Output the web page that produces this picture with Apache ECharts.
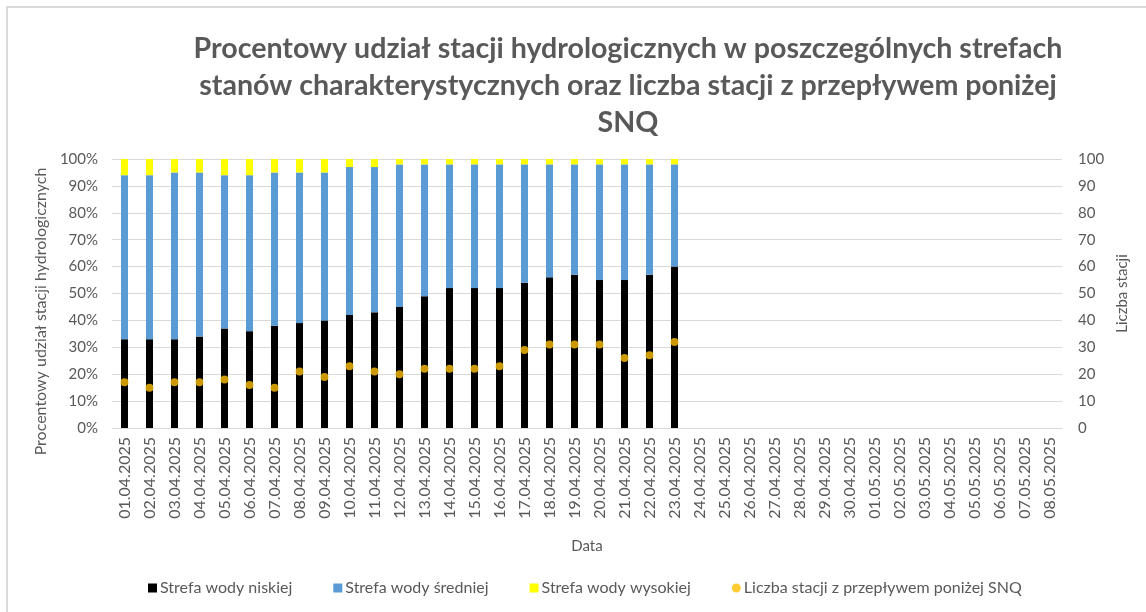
<!DOCTYPE html>
<html lang="pl">
<head>
    <meta charset="UTF-8">
    <title>Strefy stanów charakterystycznych</title>
    <style>
        body { margin: 0; background: #fff; }
        #main { width: 1146px; height: 612px; }
    </style>
</head>
<body>
<div id="main"></div>
<script src="https://cdn.jsdelivr.net/npm/echarts@6/dist/echarts.min.js"></script>
<script>
    // daty (oś X)
    var dates = [
        '01.04.2025','02.04.2025','03.04.2025','04.04.2025','05.04.2025','06.04.2025','07.04.2025',
        '08.04.2025','09.04.2025','10.04.2025','11.04.2025','12.04.2025','13.04.2025','14.04.2025',
        '15.04.2025','16.04.2025','17.04.2025','18.04.2025','19.04.2025','20.04.2025','21.04.2025',
        '22.04.2025','23.04.2025','24.04.2025','25.04.2025','26.04.2025','27.04.2025','28.04.2025',
        '29.04.2025','30.04.2025','01.05.2025','02.05.2025','03.05.2025','04.05.2025','05.05.2025',
        '06.05.2025','07.05.2025','08.05.2025'
    ];
    // udział procentowy w strefach
    var niska = [33,33,33,34,37,36,38,39,40,42,43,45,49,52,52,52,54,56,57,55,55,57,60];
    var srednia = [61,61,62,61,57,58,57,56,55,55,54,53,49,46,46,46,44,42,41,43,43,41,38];
    var wysoka = [6,6,5,5,6,6,5,5,5,3,3,2,2,2,2,2,2,2,2,2,2,2,2];
    // liczba stacji z przepływem poniżej SNQ
    var ponizejSNQ = [17,15,17,17,18,16,15,21,19,23,21,20,22,22,22,23,29,31,31,31,26,27,32];

    var leftTicks = ['0%','10%','20%','30%','40%','50%','60%','70%','80%','90%','100%'];

    var FONT = 'Lato';
    var GREY = '#595959';

    var myChart = echarts.init(document.getElementById('main'));

    var option = {
        backgroundColor: '#fff',
        animation: false,
        textStyle: { fontFamily: FONT },
        graphic: [
            {
                type: 'rect',
                shape: { x: 7, y: 7, width: 1300, height: 800 },
                style: { fill: 'none', stroke: '#d9d9d9', lineWidth: 2 },
                silent: true
            },
            {
                type: 'text',
                x: 628,
                y: 30,
                style: {
                    text: 'Procentowy udział stacji hydrologicznych w poszczególnych strefach\n' +
                          'stanów charakterystycznych oraz liczba stacji z przepływem poniżej\nSNQ',
                    fontFamily: FONT,
                    fontSize: 28.6,
                    fontWeight: 'bold',
                    fill: GREY,
                    align: 'center',
                    lineHeight: 37
                }
            }
        ],
        legend: {
            left: 143,
            top: 575,
            itemGap: 41,
            itemWidth: 9,
            itemHeight: 9,
            textStyle: { color: GREY, fontSize: 16, fontFamily: FONT, padding: [0, 0, 0, -2] },
            data: [
                { name: 'Strefa wody niskiej', icon: 'rect' },
                { name: 'Strefa wody średniej', icon: 'rect' },
                { name: 'Strefa wody wysokiej', icon: 'rect' },
                { name: 'Liczba stacji z przepływem poniżej SNQ', icon: 'circle' }
            ]
        },
        grid: { left: 112, right: 84, top: 159, bottom: 184 },
        xAxis: {
            type: 'category',
            data: dates,
            name: 'Data',
            nameLocation: 'middle',
            nameGap: 111,
            nameTextStyle: { color: GREY, fontSize: 15, fontFamily: FONT },
            axisLine: { lineStyle: { color: '#d9d9d9' } },
            axisTick: { lineStyle: { color: '#d9d9d9' }, length: 5 },
            axisLabel: { rotate: 90, interval: 0, color: GREY, fontSize: 16, fontFamily: FONT, margin: 9 }
        },
        yAxis: [
            {
                type: 'value',
                min: 0,
                max: 100,
                interval: 10,
                name: 'Procentowy udział stacji hydrologicznych',
                nameLocation: 'middle',
                nameGap: 59,
                nameTextStyle: { color: GREY, fontSize: 16, fontFamily: FONT, padding: [0, 36, 0, 0] },
                axisLine: { show: false },
                axisTick: { show: false },
                axisLabel: {
                    color: GREY, fontSize: 15, fontFamily: FONT, margin: 14,
                    formatter: function (v) { return leftTicks[Math.round(v / 10)]; }
                },
                splitLine: { lineStyle: { color: '#d9d9d9' } }
            },
            {
                type: 'value',
                min: 0,
                max: 100,
                interval: 10,
                name: 'Liczba stacji',
                nameLocation: 'middle',
                nameGap: 52,
                nameRotate: 90,
                nameTextStyle: { color: GREY, fontSize: 15, fontFamily: FONT },
                axisLine: { show: false },
                axisTick: { show: false },
                axisLabel: { color: GREY, fontSize: 15, fontFamily: FONT, margin: 16 },
                splitLine: { show: false }
            }
        ],
        series: [
            {
                name: 'Strefa wody niskiej',
                type: 'bar',
                stack: 'strefy',
                barWidth: 7,
                itemStyle: { color: '#000000' },
                data: niska
            },
            {
                name: 'Strefa wody średniej',
                type: 'bar',
                stack: 'strefy',
                barWidth: 7,
                itemStyle: { color: '#5B9BD5' },
                data: srednia
            },
            {
                name: 'Strefa wody wysokiej',
                type: 'bar',
                stack: 'strefy',
                barWidth: 7,
                itemStyle: { color: '#FFFF00' },
                data: wysoka
            },
            {
                name: 'Liczba stacji z przepływem poniżej SNQ',
                type: 'scatter',
                yAxisIndex: 1,
                symbolSize: 8,
                itemStyle: { color: '#FFC000' },
                z: 5,
                data: ponizejSNQ
            }
        ]
    };

    myChart.setOption(option);
</script>
</body>
</html>
